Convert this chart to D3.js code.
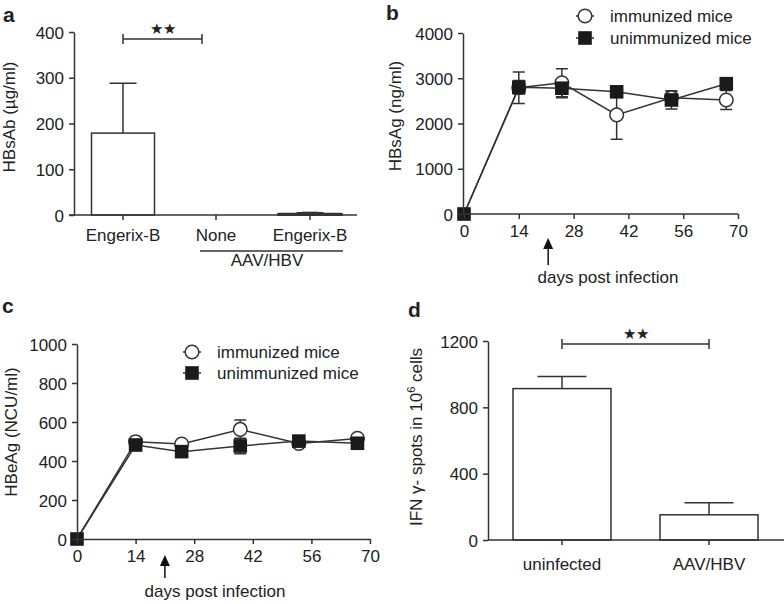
<!DOCTYPE html>
<html><head><meta charset="utf-8">
<script src="https://cdn.jsdelivr.net/npm/d3@7/dist/d3.min.js"></script>
<style>
body{margin:0;background:#fff;}
text{font-family:"Liberation Sans",Arial,sans-serif;fill:#222;}
</style></head>
<body><svg id="c" width="784" height="604"></svg>
<script>
// Panel a
const aCategories = ["Engerix-B", "None", "Engerix-B"];
const aValues = [179, 0, 3];
const aErrors = [109, 0, 2];
const aTicks = [0, 100, 200, 300, 400];
// Panels b & c
const days = [0, 14, 25, 39, 53, 67];
const dayTicks = [0, 14, 28, 42, 56, 70];
const bImmunized = [0, 2790, 2900, 2190, 2570, 2520];
const bImmunizedErr = [0, 350, 310, 540, 150, 210];
const bUnimmunized = [0, 2800, 2780, 2700, 2520, 2880];
const bUnimmunizedErr = [0, 150, 210, 100, 200, 80];
const bTicks = [0, 1000, 2000, 3000, 4000];
const cImmunized = [0, 499, 487, 562, 490, 516];
const cImmunizedErr = [0, 10, 10, 48, 10, 10];
const cUnimmunized = [0, 482, 448, 477, 502, 491];
const cUnimmunizedErr = [0, 10, 10, 40, 10, 10];
const cTicks = [0, 200, 400, 600, 800, 1000];
const legendLabels = ["immunized mice", "unimmunized mice"];
// Panel d
const dCategories = ["uninfected", "AAV/HBV"];
const dValues = [913, 152];
const dErrors = [73, 73];
const dTicks = [0, 400, 800, 1200];

const svg = d3.select("#c");
const INK = "#333";
const FS = "17px";

function styleAxis(g){
  g.selectAll("path,line").attr("stroke", INK).attr("stroke-width", 1.5);
  g.selectAll("text").attr("font-size", FS).attr("fill", "#222")
   .attr("font-family", '"Liberation Sans",Arial,sans-serif');
}
function yAxis(y, x0, ticks){
  const g = svg.append("g").attr("transform", `translate(${x0},0)`)
    .call(d3.axisLeft(y).tickValues(ticks).tickFormat(d3.format("d")).tickSize(5).tickPadding(5).tickSizeOuter(0));
  styleAxis(g); g.selectAll("text").attr("dy", "0.36em");
  return g;
}
function yLabel(x, y, txt){
  return svg.append("text").attr("transform", `translate(${x},${y}) rotate(-90)`)
    .attr("text-anchor", "middle").attr("font-size", FS).text(txt);
}
function letter(x, y, t){
  svg.append("text").attr("x", x).attr("y", y).attr("font-size", "21px")
    .attr("font-weight", "bold").attr("fill", "#111").text(t);
}
function bracket(x1, x2, y, stars){
  svg.append("path").attr("d", `M${x1},${y-5}V${y+5}M${x1},${y}H${x2}M${x2},${y-5}V${y+5}`)
    .attr("stroke", INK).attr("stroke-width", 1.5).attr("fill", "none");
  svg.append("text").attr("x", (x1+x2)/2).attr("y", y-5).attr("text-anchor", "middle")
    .attr("font-family", '"DejaVu Sans",sans-serif').attr("font-size", "15px").attr("fill", "#111").text(stars);
}
function bars(x, y, cats, vals, errs, bw, capw){
  cats.forEach((c, i) => {
    const cx = x(i);
    if (vals[i] > 0) {
      svg.append("line").attr("x1", cx).attr("x2", cx).attr("y1", y(vals[i])).attr("y2", y(vals[i]+errs[i]))
        .attr("stroke", INK).attr("stroke-width", 1.5);
      svg.append("line").attr("x1", cx-capw/2).attr("x2", cx+capw/2).attr("y1", y(vals[i]+errs[i])).attr("y2", y(vals[i]+errs[i]))
        .attr("stroke", INK).attr("stroke-width", 1.5);
      svg.append("rect").attr("x", cx-bw/2).attr("width", bw).attr("y", y(vals[i])).attr("height", y(0)-y(vals[i]))
        .attr("fill", "#fff").attr("stroke", INK).attr("stroke-width", 1.5);
    }
  });
}
function lineChart(x, y, series, errs){
  const line = d3.line().x((d,i)=>x(days[i])).y(d=>y(d));
  series.forEach((s, k) => {
    s.forEach((v, i) => {
      const e = errs[k][i]; if (!e) return;
      const cx = x(days[i]);
      svg.append("path").attr("d", `M${cx},${y(v-e)}V${y(v+e)}M${cx-6},${y(v-e)}H${cx+6}M${cx-6},${y(v+e)}H${cx+6}`)
        .attr("stroke", INK).attr("stroke-width", 1.5).attr("fill", "none");
    });
  });
  series.forEach(s => {
    svg.append("path").datum(s).attr("d", line).attr("fill", "none").attr("stroke", INK).attr("stroke-width", 1.5);
  });
  // immunized circles first, then unimmunized squares on top
  series[0].forEach((v, i) => {
    if (i === 0) return;
    svg.append("circle").attr("cx", x(days[i])).attr("cy", y(v)).attr("r", 6.8)
      .attr("fill", "#fff").attr("stroke", INK).attr("stroke-width", 1.5);
  });
  series[1].forEach((v, i) => {
    svg.append("rect").attr("x", x(days[i])-6.8).attr("y", y(v)-6.8).attr("width", 13.6).attr("height", 13.6)
      .attr("fill", "#1a1a1a");
  });
}
function legend(x, y1, y2){
  [[y1, "c"], [y2, "s"]].forEach(([yy, t], k) => {
    svg.append("line").attr("x1", x-9).attr("x2", x+9).attr("y1", yy).attr("y2", yy).attr("stroke", INK).attr("stroke-width", 1.5);
    if (t === "c") svg.append("circle").attr("cx", x).attr("cy", yy).attr("r", 6.8).attr("fill", "#fff").attr("stroke", INK).attr("stroke-width", 1.5);
    else svg.append("rect").attr("x", x-6.8).attr("y", yy-6.8).attr("width", 13.6).attr("height", 13.6).attr("fill", "#1a1a1a");
    svg.append("text").attr("x", x+25).attr("y", yy).attr("dy", "0.36em").attr("font-size", FS).text(legendLabels[k]);
  });
}
function arrow(x, yTop, yBot){
  svg.append("line").attr("x1", x).attr("x2", x).attr("y1", yTop+8).attr("y2", yBot).attr("stroke", "#111").attr("stroke-width", 1.5);
  svg.append("path").attr("d", `M${x},${yTop}L${x-5},${yTop+11}L${x+5},${yTop+11}Z`).attr("fill", "#111");
}

// ---------- Panel a ----------
{
  letter(3, 22, "a");
  const y = d3.scaleLinear().domain([0, 400]).range([215, 32]);
  const xPos = [123, 216, 310];
  const x = d3.scaleOrdinal().domain([0,1,2]).range(xPos);
  bars(i => x(i), y, aCategories, aValues, aErrors, 63, 27);
  svg.append("rect").attr("x", x(2)-32).attr("width", 64).attr("y", y(aValues[2])).attr("height", y(0)-y(aValues[2]))
    .attr("fill", "#fff").attr("stroke", INK).attr("stroke-width", 1.5);
  svg.append("line").attr("x1", x(2)-8).attr("x2", x(2)+8).attr("y1", y(aValues[2]+aErrors[2])).attr("y2", y(aValues[2]+aErrors[2]))
    .attr("stroke", INK).attr("stroke-width", 2);
  yAxis(y, 74, aTicks);
  svg.append("line").attr("x1", 69).attr("x2", 357).attr("y1", 215).attr("y2", 215).attr("stroke", INK).attr("stroke-width", 1.5);
  aCategories.forEach((c, i) => {
    svg.append("line").attr("x1", x(i)).attr("x2", x(i)).attr("y1", 215).attr("y2", 220).attr("stroke", INK).attr("stroke-width", 1.5);
    svg.append("text").attr("x", x(i)).attr("y", 241).attr("text-anchor", "middle").attr("font-size", FS).text(c);
  });
  svg.append("line").attr("x1", 200).attr("x2", 343).attr("y1", 251).attr("y2", 251).attr("stroke", INK).attr("stroke-width", 1.5);
  svg.append("text").attr("x", 267).attr("y", 266).attr("text-anchor", "middle").attr("font-size", FS).text("AAV/HBV");
  yLabel(15, 117, "HBsAb (µg/ml)");
  bracket(123, 202, 39, "★★");
}

// ---------- Panel b ----------
{
  letter(386, 20, "b");
  const y = d3.scaleLinear().domain([0, 4000]).range([214, 33]);
  const x = d3.scaleLinear().domain([0, 70]).range([464, 738]);
  lineChart(x, y, [bImmunized, bUnimmunized], [bImmunizedErr, bUnimmunizedErr]);
  yAxis(y, 463, bTicks);
  const gx = svg.append("g").attr("transform", "translate(0,214)")
    .call(d3.axisBottom(x).tickValues(dayTicks).tickSize(5).tickPadding(6).tickSizeOuter(0));
  styleAxis(gx);
  gx.select(".domain").attr("d", "M463,0H738");
  yLabel(401, 116, "HBsAg (ng/ml)");
  arrow(x(21.5), 238, 265);
  svg.append("text").attr("x", 608).attr("y", 283).attr("text-anchor", "middle").attr("font-size", FS).text("days post infection");
  legend(585, 16, 38);
}

// ---------- Panel c ----------
{
  letter(2, 313, "c");
  const y = d3.scaleLinear().domain([0, 1000]).range([539, 344]);
  const x = d3.scaleLinear().domain([0, 70]).range([77, 370]);
  lineChart(x, y, [cImmunized, cUnimmunized], [cImmunizedErr, cUnimmunizedErr]);
  yAxis(y, 77, cTicks);
  const gx = svg.append("g").attr("transform", "translate(0,539)")
    .call(d3.axisBottom(x).tickValues(dayTicks).tickSize(5).tickPadding(6).tickSizeOuter(0));
  styleAxis(gx);
  yLabel(17, 432, "HBeAg (NCU/ml)");
  arrow(x(21), 555, 578);
  svg.append("text").attr("x", 215).attr("y", 597).attr("text-anchor", "middle").attr("font-size", FS).text("days post infection");
  legend(192, 352, 373);
}

// ---------- Panel d ----------
{
  letter(408, 317, "d");
  const y = d3.scaleLinear().domain([0, 1200]).range([540, 341]);
  const xPos = [562, 709];
  const x = d3.scaleOrdinal().domain([0,1]).range(xPos);
  bars(i => x(i), y, dCategories, dValues, dErrors, 98, 49);
  yAxis(y, 488, dTicks);
  svg.append("line").attr("x1", 488).attr("x2", 784).attr("y1", 540).attr("y2", 540).attr("stroke", INK).attr("stroke-width", 1.5);
  dCategories.forEach((c, i) => {
    svg.append("line").attr("x1", x(i)).attr("x2", x(i)).attr("y1", 540).attr("y2", 545).attr("stroke", INK).attr("stroke-width", 1.5);
    svg.append("text").attr("x", x(i)).attr("y", 570).attr("text-anchor", "middle").attr("font-size", FS).text(c);
  });
  const t = svg.append("text").attr("transform", "translate(422,437) rotate(-90)")
    .attr("text-anchor", "middle").attr("font-size", FS);
  t.append("tspan").text("IFN γ- spots in 10");
  t.append("tspan").attr("font-size", "11px").attr("dy", "-0.6em").text("6");
  t.append("tspan").attr("dy", "0.4em").text(" cells");
  bracket(562, 709, 344, "★★");
}
</script></body></html>
